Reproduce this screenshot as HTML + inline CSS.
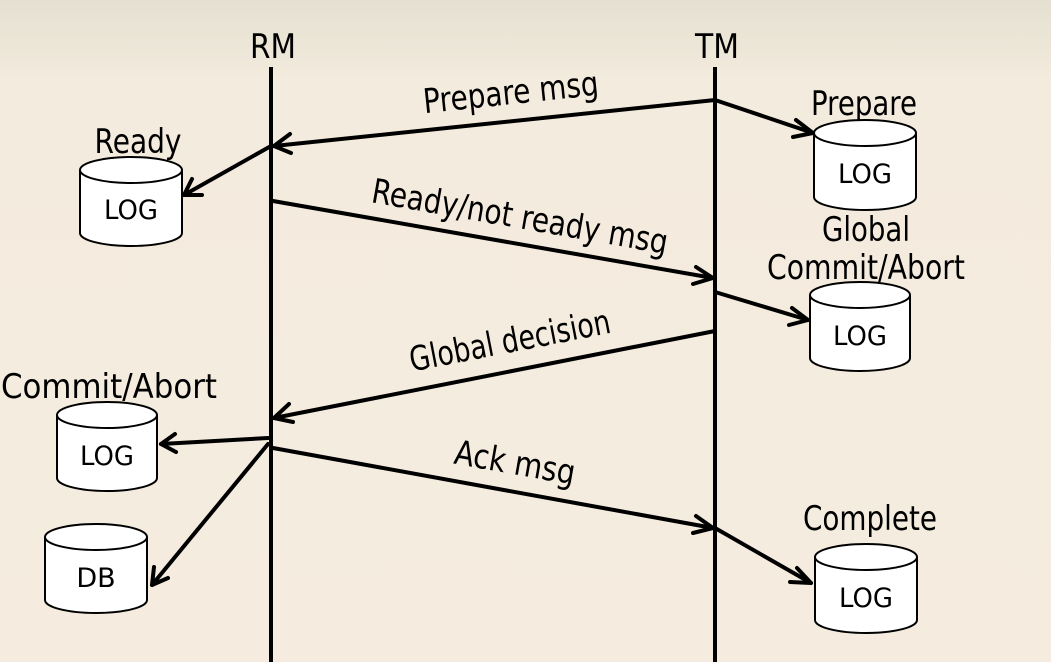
<!DOCTYPE html>
<html><head><style>html,body{margin:0;padding:0;background:#f5ecdf;}svg{display:block}</style></head>
<body>
<svg width="1051" height="662" viewBox="0 0 1051 662" xmlns="http://www.w3.org/2000/svg" font-family="DejaVu Sans, Liberation Sans, sans-serif">
<defs>
<linearGradient id="bg" x1="0" y1="0" x2="0" y2="1"><stop offset="0" stop-color="#e4e0d1"/><stop offset="0.12" stop-color="#f3ebdd"/><stop offset="1" stop-color="#f5ecdf"/></linearGradient>
</defs>
<rect width="1051" height="662" fill="url(#bg)"/>
<g stroke="#000" stroke-width="4" fill="none">
<line x1="271" y1="67" x2="271" y2="662"/>
<line x1="715" y1="67" x2="715" y2="662"/>
</g>
<g font-size="34" fill="#000" text-anchor="middle">
<text x="273" y="58" textLength="46" lengthAdjust="spacingAndGlyphs">RM</text>
<text x="717" y="58" textLength="44" lengthAdjust="spacingAndGlyphs">TM</text>
<text x="138" y="153" textLength="87" lengthAdjust="spacingAndGlyphs">Ready</text>
<text x="864" y="115" textLength="106" lengthAdjust="spacingAndGlyphs">Prepare</text>
<text x="866" y="241" textLength="88" lengthAdjust="spacingAndGlyphs">Global</text>
<text x="866" y="279" textLength="198" lengthAdjust="spacingAndGlyphs">Commit/Abort</text>
<text x="109" y="398" textLength="216" lengthAdjust="spacingAndGlyphs">Commit/Abort</text>
<text x="870" y="530" textLength="134" lengthAdjust="spacingAndGlyphs">Complete</text>
<text transform="translate(512,104) rotate(-6)" textLength="176" lengthAdjust="spacingAndGlyphs">Prepare msg</text>
<text transform="translate(518,228) rotate(10)" textLength="300" lengthAdjust="spacingAndGlyphs">Ready/not ready msg</text>
<text transform="translate(512,352) rotate(-11)" textLength="204" lengthAdjust="spacingAndGlyphs">Global decision</text>
<text transform="translate(513,474) rotate(10)" textLength="122" lengthAdjust="spacingAndGlyphs">Ack msg</text>
</g>
<g stroke="#000" stroke-width="2" fill="#fff" font-size="27">
<path d="M80 170 V233 A51 13 0 0 0 182 233 V170"/><ellipse cx="131" cy="170" rx="51" ry="13"/><text x="131" y="219" text-anchor="middle" fill="#000" stroke="none" textLength="54" lengthAdjust="spacingAndGlyphs">LOG</text>
<path d="M814 133 V197 A51 13 0 0 0 916 197 V133"/><ellipse cx="865" cy="133" rx="51" ry="13"/><text x="865" y="183" text-anchor="middle" fill="#000" stroke="none" textLength="54" lengthAdjust="spacingAndGlyphs">LOG</text>
<path d="M810 295 V358 A50 13 0 0 0 910 358 V295"/><ellipse cx="860" cy="295" rx="50" ry="13"/><text x="860" y="345" text-anchor="middle" fill="#000" stroke="none" textLength="54" lengthAdjust="spacingAndGlyphs">LOG</text>
<path d="M57 415 V478 A50 13 0 0 0 157 478 V415"/><ellipse cx="107" cy="415" rx="50" ry="13"/><text x="107" y="465" text-anchor="middle" fill="#000" stroke="none" textLength="54" lengthAdjust="spacingAndGlyphs">LOG</text>
<path d="M45 537 V600 A51 13 0 0 0 147 600 V537"/><ellipse cx="96" cy="537" rx="51" ry="13"/><text x="96" y="587" text-anchor="middle" fill="#000" stroke="none">DB</text>
<path d="M815 557 V620 A51 13 0 0 0 917 620 V557"/><ellipse cx="866" cy="557" rx="51" ry="13"/><text x="866" y="607" text-anchor="middle" fill="#000" stroke="none" textLength="54" lengthAdjust="spacingAndGlyphs">LOG</text>
</g>
<g stroke="#000" stroke-width="4" fill="none" stroke-linecap="round" stroke-linejoin="round">
<line x1="715" y1="100" x2="274" y2="146"/><polyline points="290,134 274,146 291,153"/>
<line x1="715" y1="100" x2="813" y2="133"/><polyline points="796,120 813,133 793,137"/>
<line x1="271" y1="146" x2="184" y2="195"/><polyline points="192,179 184,195 202,195"/>
<line x1="273" y1="201" x2="713" y2="278"/><polyline points="696,267 713,278 693,284"/>
<line x1="715" y1="292" x2="808" y2="320"/><polyline points="792,308 808,320 789,325"/>
<line x1="715" y1="331" x2="274" y2="418"/><polyline points="289,404 274,418 293,422"/>
<line x1="268" y1="438" x2="161" y2="444"/><polyline points="175,434 161,444 176,452"/>
<line x1="268" y1="444" x2="152" y2="585"/><polyline points="154,567 152,585 168,578"/>
<line x1="273" y1="448" x2="713" y2="528"/><polyline points="696,516 713,528 693,533"/>
<line x1="715" y1="528" x2="811" y2="583"/><polyline points="797,568 811,583 790,582"/>
</g>
</svg>
</body></html>
